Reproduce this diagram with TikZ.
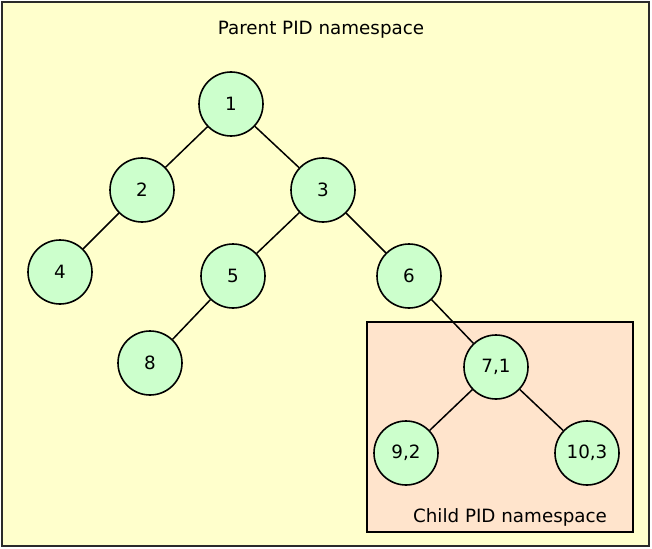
\documentclass[tikz,border=0pt]{standalone}
\usepackage{fontspec}
\setmainfont{DejaVu Sans}
\definecolor{outerfill}{HTML}{FFFFCC}
\definecolor{innerfill}{HTML}{FFE4CC}
\definecolor{nodefill}{HTML}{CCFFCC}
\definecolor{framecol}{HTML}{2A2A2A}
\begin{document}
\begin{tikzpicture}[x=1pt,y=-1pt,
  pid/.style={circle,draw=black,line width=1.6pt,fill=nodefill,minimum size=64pt,inner sep=0pt,font=\fontsize{18.3}{21}\selectfont},
  edge/.style={line width=1.5pt,draw=black},
  lbl/.style={font=\fontsize{18.3}{21}\selectfont,inner sep=0pt,anchor=base}]
\useasboundingbox (0,0) rectangle (652,548);
\draw[line width=2.6pt,draw=framecol,fill=outerfill] (2,2) rectangle (649,546);
\draw[line width=1.5pt,draw=black,fill=innerfill] (367,322) rectangle (633,532);
\node[lbl] (parentlbl) at (321,35) {Parent PID namespace};
\node[lbl] (childlbl) at (510,522) {Child PID namespace};
\node[pid] (n1) at (231,104) {1};
\node[pid] (n2) at (142,190) {2};
\node[pid] (n3) at (323,190) {3};
\node[pid] (n4) at (60,272) {4};
\node[pid] (n5) at (233,276) {5};
\node[pid] (n6) at (409,276) {6};
\node[pid] (n8) at (150,363) {8};
\node[pid] (n7) at (496,367) {7,1};
\node[pid] (n9) at (406,453) {9,2};
\node[pid] (n10) at (587,453) {10,3};
\draw[edge] (n1) -- (n2);
\draw[edge] (n1) -- (n3);
\draw[edge] (n2) -- (n4);
\draw[edge] (n3) -- (n5);
\draw[edge] (n3) -- (n6);
\draw[edge] (n5) -- (n8);
\draw[edge] (n6) -- (n7);
\draw[edge] (n7) -- (n9);
\draw[edge] (n7) -- (n10);
\end{tikzpicture}
\end{document}
